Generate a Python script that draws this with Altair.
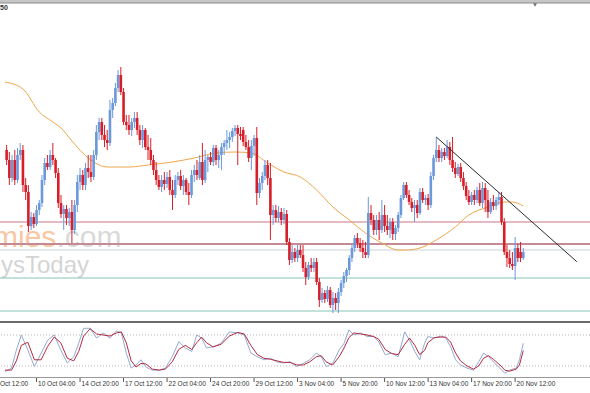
import altair as alt
import pandas as pd

# ---------------- data (price points) ----------------
bar_open = [172,162,144,162,142,167,172,137,130,96,
            105,98,112,119,142,159,155,167,162,149,
            119,108,113,104,110,92,117,140,147,137,
            154,150,145,167,190,200,187,182,179,212,
            219,234,247,230,200,197,192,200,204,192,
            182,192,175,172,162,152,142,135,142,138,
            145,132,127,142,146,136,142,130,127,147,
            152,144,160,142,162,165,160,174,162,167,
            175,179,182,185,191,194,188,192,180,175,
            164,176,184,129,139,146,157,144,107,112,
            104,110,102,108,80,62,70,64,72,67,
            54,45,57,54,60,40,22,29,23,32,
            17,24,19,30,39,46,52,64,74,84,
            79,74,70,67,109,102,92,102,92,107,
            96,92,100,88,94,107,124,137,127,120,
            114,117,109,130,122,124,117,146,164,172,
            164,170,166,175,162,154,148,155,144,136,
            126,120,127,122,132,119,134,122,110,120,
            116,122,125,100,70,64,58,56,74,70,
            64]
bar_high = [177,170,167,172,174,179,177,144,137,110,
            109,117,122,147,164,167,172,179,164,154,
            127,117,117,114,122,122,147,154,152,159,
            167,167,172,197,204,204,197,192,222,224,
            239,252,255,234,207,207,204,210,210,197,
            197,194,187,184,167,160,147,147,150,150,
            152,142,147,150,152,147,144,139,152,157,
            162,167,179,172,167,170,177,177,172,179,
            182,192,190,194,197,197,195,195,187,182,
            182,187,195,144,150,162,162,159,117,117,
            116,114,114,112,84,77,74,77,77,77,
            60,60,64,64,64,44,34,32,36,35,
            30,29,34,42,50,54,67,77,87,89,
            84,82,80,125,117,107,107,110,122,117,
            107,104,104,97,110,127,140,140,132,124,
            122,122,134,134,127,128,150,167,185,177,
            174,174,182,180,185,160,158,159,150,140,
            132,130,132,135,139,140,139,132,124,127,
            125,130,130,104,77,72,70,85,78,80,
            74]
bar_low = [157,137,140,137,139,162,130,122,90,92,
           94,96,107,115,137,152,152,157,144,114,
           104,92,97,96,79,88,110,132,132,132,
           144,140,142,162,182,182,175,172,176,204,
           216,230,227,197,192,187,186,194,187,177,
           174,172,162,157,147,137,132,130,132,134,
           127,112,124,137,132,127,127,117,124,140,
           142,142,137,139,150,157,156,157,154,152,
           167,172,174,180,186,157,182,176,172,160,
           152,166,117,124,132,142,137,82,97,100,
           100,97,98,77,57,59,60,60,64,50,
           37,42,50,50,37,15,19,19,20,14,
           9,12,9,26,34,40,47,60,70,74,
           70,64,64,64,97,87,87,82,89,90,
           87,84,82,82,90,104,122,124,117,110,
           100,104,107,119,117,112,114,142,160,160,
           160,162,164,157,150,144,146,140,132,122,
           117,117,117,119,116,114,110,104,108,112,
           112,117,97,67,55,54,52,42,60,60,
           62]
bar_close = [162,144,162,142,167,172,137,130,96,105,
             98,112,119,142,159,155,167,162,149,119,
             108,113,104,110,92,117,140,147,137,154,
             150,145,167,190,200,187,182,179,212,219,
             234,247,230,200,197,192,200,204,192,182,
             192,175,172,162,152,142,135,142,138,145,
             132,127,142,146,136,142,130,127,147,152,
             147,160,142,162,165,160,174,162,167,175,
             179,182,185,191,194,188,186,180,175,164,
             176,184,129,139,146,157,144,107,112,104,
             110,102,108,80,62,70,64,72,67,54,
             45,57,54,60,40,22,29,23,32,17,
             24,19,30,39,46,52,64,74,84,79,
             74,70,67,109,102,92,102,92,107,96,
             92,100,88,94,107,124,137,127,120,114,
             117,109,130,122,124,117,146,164,172,164,
             170,166,175,162,154,148,155,144,136,126,
             120,127,122,132,119,134,122,110,120,116,
             122,125,100,70,64,58,56,74,64,64,
             70]

ma_bar = [-0.6, 6, 12, 17, 20, 24, 28, 32, 37, 45, 52, 61, 69, 77, 84, 90, 96, 102,
          108, 114, 120, 126, 132, 138, 144, 147, 152, 158, 165, 170, 177, 183, 186, 190]
ma_value = [240, 233, 210, 200, 194, 181, 169, 160, 155, 155, 157, 160, 164, 169, 170,
            169, 159, 150, 145, 132, 115, 102, 89, 79, 72, 72, 74, 82, 95, 107, 115,
            120, 120, 116]

stoch_bar = [-0.6, 1.8, 3.6, 5.4, 7.8, 10.2, 12.7, 15.1, 17.5, 19.9, 22.3, 24.7, 26.5, 28.3,
             30.7, 33.1, 35.5, 38, 40.4, 42.2, 44, 45.8, 47.6, 49.4, 51.2, 53.6, 56.1,
             58.4, 60.9, 63.3, 65.7, 68.1, 69.9, 71.7, 73.5, 75.9, 78.9, 81.9, 85, 87.4,
             89.8, 92.2, 94.6, 97, 99.4, 101.8, 104.2, 106.7, 109.1, 111.5, 113.9, 115.7,
             117.5, 119.9, 122.3, 124.1, 125.9, 127.7, 130.2, 132.6, 135, 136.8, 139.2,
             141.6, 144, 146.4, 148.2, 150.1, 151.9, 153.7, 154.9, 157.3, 159.7, 161.5,
             163.3, 165.1, 166.9, 169.3, 171.7, 173.6, 175.4, 177.2, 179, 181.4, 183.2,
             185, 187.4, 188.6, 190]
stoch_k = [9, 16, 51, 80, 51, 19, 45, 70, 80, 51, 26, 38, 64, 93, 93, 74, 84, 74, 88, 84,
           45, 16, 22, 32, 18, 12, 12, 16, 38, 67, 55, 48, 80, 74, 55, 57, 64, 86, 84, 80,
           45, 38, 32, 35, 28, 26, 28, 19, 25, 32, 45, 38, 19, 25, 51, 64, 90, 80, 84, 77,
           77, 67, 42, 45, 38, 86, 70, 48, 32, 64, 77, 74, 78, 74, 57, 32, 22, 16, 12, 28,
           45, 38, 28, 16, 6, 12, 16, 32, 64]
stoch_d = [12, 12, 30, 60, 66, 32, 32, 58, 76, 65, 35, 30, 48, 78, 92, 82, 80, 78, 84, 86,
           65, 30, 18, 25, 24, 14, 12, 14, 28, 52, 60, 52, 65, 76, 65, 57, 62, 78, 85, 82,
           60, 42, 35, 33, 30, 27, 27, 22, 22, 28, 38, 40, 28, 22, 38, 55, 75, 84, 82, 80,
           77, 72, 52, 44, 42, 62, 74, 60, 42, 50, 65, 75, 76, 76, 66, 45, 30, 20, 14, 20,
           35, 40, 33, 22, 12, 10, 14, 22, 50]

level_price = [100, 78, 72, 44, 11]
level_color = ["#c97886", "#c48a96", "#c8d5d8", "#86c4b6", "#86c4b6"]
level_width = [1.2, 2.0, 1.0, 1.0, 1.0]

trend_bar = [158, 209.7]
trend_price = [185, 60.3]

tick_bar = [-5, 11, 27, 43, 59, 75, 91, 107, 123, 139, 155, 171, 187]
tick_label = ["7 Oct 12:00", "10 Oct 04:00", "14 Oct 20:00", "17 Oct 12:00",
              "22 Oct 04:00", "24 Oct 20:00", "29 Oct 12:00", "3 Nov 04:00",
              "5 Nov 20:00", "10 Nov 12:00", "13 Nov 04:00", "17 Nov 20:00",
              "20 Nov 12:00"]

# ---------------- tables ----------------
candles = pd.DataFrame({"bar": list(range(len(bar_close))), "open": bar_open,
                        "high": bar_high, "low": bar_low, "close": bar_close})
candles["dir"] = ["up" if c > o else "down" for o, c in zip(bar_open, bar_close)]
ma = pd.DataFrame({"bar": ma_bar, "value": ma_value})
stoch = pd.DataFrame({"bar": stoch_bar, "k": stoch_k, "d": stoch_d})
levels = pd.DataFrame({"price": level_price, "color": level_color, "w": level_width})
trend = pd.DataFrame({"bar": trend_bar, "price": trend_price})
ticks = pd.DataFrame({"bar": tick_bar, "label": tick_label})
stoch_levels = pd.DataFrame({"v": [80, 20]})
one = pd.DataFrame({"t": ["50"]})

BLUE = "#6a98db"
RED = "#d81e28"
W, H = 590, 393

xs = alt.Scale(domain=[-0.6, 212.7], nice=False, zero=False)
X = alt.X("bar:Q", scale=xs, axis=None)
PS = alt.Scale(domain=[-71, 322], nice=False, zero=False)
SS = alt.Scale(domain=[-32.26, 728.3], nice=False, zero=False)
dir_color = alt.Color("dir:N", scale=alt.Scale(domain=["up", "down"], range=[BLUE, RED]),
                      legend=None)

# ---------------- watermark (behind) ----------------
WM_FONT = "Liberation Sans"
wm_orange = alt.Chart(one).mark_text(text="mies", font=WM_FONT, fontSize=30,
                                     align="left", baseline="alphabetic", color="#f8c7a3").encode(
    x=alt.value(-7), y=alt.value(247))
wm_gray = alt.Chart(one).mark_text(text=".com", font=WM_FONT, fontSize=30,
                                   align="left", baseline="alphabetic", color="#d9d9d9").encode(
    x=alt.value(56.5), y=alt.value(247))
wm2 = alt.Chart(one).mark_text(text="ysToday", font=WM_FONT, fontSize=24,
                               align="left", baseline="alphabetic", color="#d4d4d4").encode(
    x=alt.value(1), y=alt.value(273))

# ---------------- main panel ----------------
lv = alt.Chart(levels).mark_rule().encode(
    y=alt.Y("price:Q", scale=PS, axis=None),
    color=alt.Color("color:N", scale=None),
    strokeWidth=alt.StrokeWidth("w:Q", scale=None))
ma_line = alt.Chart(ma).mark_line(color="#f0a64a", strokeWidth=1, interpolate="monotone").encode(
    x=X, y=alt.Y("value:Q", scale=PS, axis=None))
wicks = alt.Chart(candles).mark_rule(strokeWidth=1).encode(
    x=X, y=alt.Y("low:Q", scale=PS, axis=None), y2="high:Q", color=dir_color)
bodies = alt.Chart(candles).mark_bar(size=2.6).encode(
    x=X, y=alt.Y("open:Q", scale=PS, axis=None), y2="close:Q", color=dir_color)
trend_line = alt.Chart(trend).mark_line(color="#2a2a2a", strokeWidth=1).encode(
    x=X, y=alt.Y("price:Q", scale=PS, axis=None))
main = alt.layer(lv, ma_line, wicks, bodies, trend_line)

# ---------------- stochastic panel ----------------
sl = alt.Chart(stoch_levels).mark_rule(color="#b5b5b5", strokeDash=[1, 2]).encode(
    y=alt.Y("v:Q", scale=SS, axis=None))
k_line = alt.Chart(stoch).mark_line(color="#93abd2", strokeWidth=1).encode(
    x=X, y=alt.Y("k:Q", scale=SS, axis=None))
d_line = alt.Chart(stoch).mark_line(color="#b52a40", strokeWidth=1).encode(
    x=X, y=alt.Y("d:Q", scale=SS, axis=None))
stoch_layer = alt.layer(sl, k_line, d_line)

# ---------------- frame, separators, labels ----------------
top_band = alt.Chart(one).mark_rect(color="#c6c6c6").encode(
    x=alt.value(0), x2=alt.value(W), y=alt.value(0), y2=alt.value(3))
top_line = alt.Chart(one).mark_rule(color="#8c8c8c", strokeWidth=1).encode(
    x=alt.value(0), x2=alt.value(W), y=alt.value(3))
shift = alt.Chart(one).mark_point(shape="triangle-down", filled=True, size=16,
                                  color="#707070", opacity=1).encode(
    x=alt.value(535), y=alt.value(5))
corner = alt.Chart(one).mark_text(font="Liberation Sans", fontSize=7, fontWeight="bold",
                                  align="left", baseline="alphabetic", color="#333333").encode(
    x=alt.value(0), y=alt.value(10), text="t:N")
sep = alt.Chart(one).mark_rule(color="#6a6a6a", strokeWidth=2).encode(
    x=alt.value(0), x2=alt.value(W), y=alt.value(322))
bottom = alt.Chart(one).mark_rule(color="#9a9a9a", strokeWidth=1).encode(
    x=alt.value(0), x2=alt.value(W), y=alt.value(377.5))
tick_marks = alt.Chart(ticks).mark_rule(color="#555555", strokeWidth=1).encode(
    x=X, y=alt.value(378), y2=alt.value(382))
tick_text = alt.Chart(ticks).mark_text(font="Liberation Sans", fontSize=6.5, align="left",
                                       baseline="alphabetic", dx=1.5, color="#333333").encode(
    x=X, y=alt.value(385.5), text="label:N")

chart = alt.layer(
    wm_orange, wm_gray, wm2, main, stoch_layer,
    top_band, top_line, shift, corner, sep, bottom, tick_marks, tick_text
).resolve_scale(y="independent").properties(
    width=W, height=H, padding=0, background="white",
    autosize=alt.AutoSizeParams(type="none")
).configure_view(stroke=None)

chart.save("out.html", embed_options={"renderer": "svg", "actions": False})
